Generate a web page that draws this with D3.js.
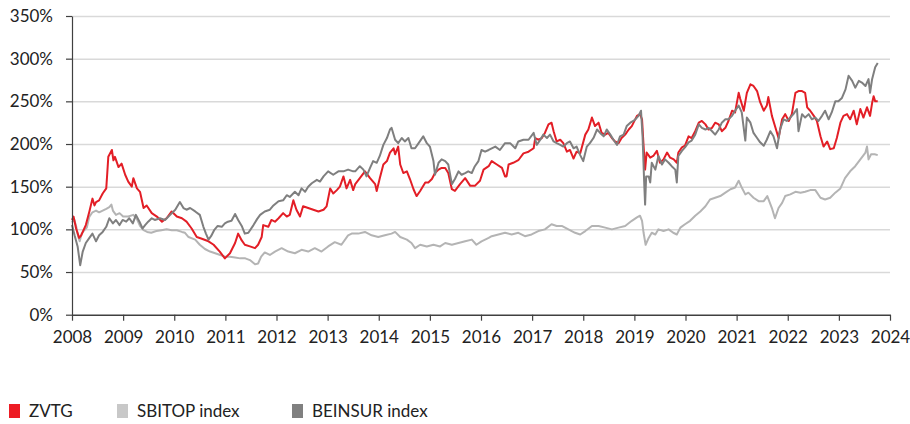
<!DOCTYPE html>
<html><head><meta charset="utf-8">
<script src="https://cdn.jsdelivr.net/npm/d3@7"></script>
<style>
html,body{margin:0;padding:0;background:#fff;}
text{font-family:Lato,"Open Sans",sans-serif;fill:#222;}
</style></head>
<body>
<svg id="chart" width="910" height="424"></svg>
<script>
const yearTicks = [2008,2009,2010,2011,2012,2013,2014,2015,2016,2017,2018,2019,2020,2021,2022,2023,2024];
const pctTicks = [0,50,100,150,200,250,300,350];
const seriesNames = ["ZVTG","SBITOP index","BEINSUR index"];
const seriesColors = ["#e31e26","#b4b4b4","#7f7f7f"];
const legendColors = ["#ed1c24","#c8c8c8","#808080"];

const zvtg = [[2008.00,111],[2008.03,115],[2008.08,101],[2008.14,90],[2008.18,93],[2008.21,97],[2008.27,105],[2008.34,121],[2008.40,136],[2008.44,128],[2008.47,132],[2008.53,134],[2008.60,142],[2008.67,148],[2008.69,166],[2008.71,185],[2008.78,193],[2008.81,181],[2008.84,185],[2008.91,173],[2008.97,177],[2009.04,164],[2009.10,156],[2009.17,150],[2009.20,160],[2009.27,148],[2009.33,144],[2009.40,125],[2009.46,128],[2009.56,119],[2009.66,115],[2009.76,109],[2009.85,113],[2009.95,121],[2010.05,115],[2010.15,113],[2010.24,109],[2010.34,101],[2010.44,91],[2010.54,89],[2010.67,86],[2010.77,82],[2010.89,74],[2010.99,66],[2011.09,72],[2011.19,84],[2011.25,95],[2011.32,87],[2011.38,82],[2011.48,80],[2011.58,78],[2011.64,82],[2011.71,91],[2011.74,105],[2011.84,103],[2011.90,111],[2011.97,109],[2012.04,113],[2012.13,119],[2012.20,115],[2012.26,117],[2012.33,134],[2012.39,123],[2012.46,115],[2012.52,127],[2012.62,125],[2012.72,123],[2012.82,121],[2012.92,123],[2012.98,127],[2013.05,148],[2013.11,142],[2013.18,146],[2013.24,150],[2013.31,162],[2013.37,148],[2013.44,158],[2013.50,146],[2013.54,153],[2013.63,160],[2013.73,168],[2013.83,160],[2013.93,153],[2013.96,145],[2014.02,160],[2014.09,176],[2014.16,180],[2014.22,190],[2014.29,195],[2014.32,188],[2014.38,197],[2014.42,176],[2014.48,166],[2014.55,168],[2014.61,159],[2014.68,147],[2014.74,139],[2014.81,145],[2014.91,155],[2014.97,155],[2015.04,159],[2015.10,166],[2015.17,170],[2015.23,172],[2015.30,172],[2015.36,166],[2015.43,147],[2015.49,145],[2015.59,153],[2015.69,160],[2015.79,151],[2015.88,151],[2015.98,157],[2016.05,170],[2016.15,174],[2016.21,180],[2016.31,176],[2016.41,172],[2016.47,162],[2016.50,162],[2016.54,176],[2016.63,178],[2016.73,181],[2016.83,189],[2016.93,191],[2017.03,195],[2017.06,207],[2017.12,205],[2017.19,207],[2017.25,213],[2017.32,223],[2017.38,225],[2017.42,215],[2017.48,203],[2017.55,205],[2017.61,201],[2017.68,191],[2017.74,193],[2017.81,183],[2017.87,191],[2017.94,189],[2018.04,211],[2018.10,217],[2018.17,231],[2018.23,221],[2018.30,225],[2018.36,213],[2018.43,211],[2018.49,213],[2018.56,207],[2018.62,203],[2018.69,201],[2018.75,207],[2018.82,211],[2018.89,217],[2018.95,221],[2019.05,233],[2019.11,235],[2019.15,229],[2019.18,198],[2019.21,170],[2019.24,190],[2019.31,184],[2019.37,186],[2019.44,192],[2019.50,178],[2019.57,182],[2019.64,190],[2019.70,184],[2019.77,182],[2019.83,178],[2019.86,190],[2019.93,196],[2019.99,198],[2020.06,209],[2020.12,207],[2020.19,215],[2020.26,225],[2020.32,227],[2020.39,223],[2020.45,217],[2020.52,219],[2020.58,225],[2020.65,223],[2020.71,215],[2020.78,219],[2020.84,227],[2020.91,239],[2020.97,237],[2021.04,260],[2021.07,253],[2021.14,239],[2021.20,260],[2021.27,270],[2021.33,268],[2021.40,262],[2021.46,249],[2021.53,239],[2021.59,245],[2021.62,255],[2021.69,233],[2021.76,219],[2021.82,207],[2021.89,229],[2021.95,235],[2022.02,227],[2022.08,235],[2022.15,260],[2022.21,262],[2022.28,262],[2022.34,260],[2022.38,243],[2022.44,239],[2022.51,233],[2022.57,227],[2022.64,209],[2022.70,197],[2022.77,203],[2022.83,194],[2022.90,195],[2022.96,207],[2023.03,225],[2023.09,233],[2023.16,235],[2023.22,229],[2023.29,239],[2023.35,223],[2023.42,241],[2023.48,231],[2023.55,243],[2023.61,233],[2023.65,248],[2023.68,256],[2023.71,250],[2023.76,250]];

const sbitop = [[2008.00,108],[2008.04,112],[2008.08,104],[2008.12,92],[2008.15,86],[2008.19,95],[2008.24,99],[2008.29,102],[2008.34,115],[2008.40,120],[2008.47,122],[2008.53,120],[2008.60,122],[2008.67,124],[2008.73,126],[2008.77,129],[2008.80,122],[2008.86,117],[2008.93,119],[2009.00,115],[2009.10,115],[2009.20,117],[2009.27,112],[2009.33,104],[2009.40,99],[2009.47,97],[2009.55,96],[2009.65,98],[2009.75,99],[2009.85,100],[2009.95,99],[2010.05,99],[2010.15,97],[2010.21,96],[2010.28,91],[2010.41,88],[2010.50,82],[2010.60,77],[2010.70,74],[2010.80,72],[2010.90,70],[2010.99,68],[2011.09,68],[2011.19,67],[2011.29,66],[2011.39,66],[2011.48,64],[2011.58,59],[2011.64,60],[2011.70,68],[2011.77,73],[2011.87,70],[2011.97,74],[2012.10,78],[2012.23,74],[2012.36,72],[2012.49,76],[2012.62,74],[2012.75,78],[2012.88,74],[2013.01,80],[2013.14,85],[2013.27,82],[2013.40,93],[2013.47,95],[2013.60,95],[2013.73,97],[2013.86,93],[2013.99,91],[2014.12,93],[2014.25,95],[2014.32,97],[2014.42,91],[2014.55,88],[2014.64,84],[2014.71,78],[2014.81,82],[2014.94,80],[2015.07,82],[2015.20,80],[2015.30,84],[2015.43,82],[2015.56,84],[2015.69,86],[2015.82,88],[2015.91,82],[2016.01,86],[2016.15,90],[2016.21,92],[2016.34,94],[2016.47,96],[2016.60,94],[2016.73,96],[2016.86,92],[2016.99,94],[2017.12,98],[2017.25,100],[2017.38,106],[2017.48,104],[2017.58,104],[2017.71,100],[2017.84,96],[2017.94,94],[2018.04,98],[2018.17,104],[2018.30,104],[2018.43,102],[2018.56,100],[2018.69,102],[2018.82,104],[2018.95,110],[2019.05,114],[2019.11,116],[2019.15,110],[2019.18,96],[2019.22,82],[2019.28,90],[2019.34,96],[2019.41,94],[2019.47,100],[2019.57,98],[2019.67,100],[2019.76,96],[2019.83,94],[2019.90,102],[2019.99,106],[2020.09,110],[2020.19,116],[2020.29,121],[2020.39,127],[2020.48,135],[2020.58,137],[2020.68,139],[2020.78,143],[2020.88,147],[2020.97,149],[2021.04,157],[2021.10,149],[2021.17,141],[2021.23,143],[2021.33,137],[2021.43,133],[2021.53,133],[2021.60,139],[2021.69,125],[2021.75,113],[2021.82,125],[2021.89,131],[2021.95,139],[2022.05,141],[2022.15,144],[2022.25,143],[2022.34,144],[2022.44,146],[2022.54,146],[2022.64,137],[2022.73,135],[2022.83,137],[2022.93,143],[2023.03,148],[2023.12,160],[2023.22,168],[2023.32,174],[2023.42,182],[2023.52,190],[2023.55,197],[2023.58,182],[2023.63,188],[2023.70,188],[2023.76,187]];

const beinsur = [[2008.00,105],[2008.05,93],[2008.11,80],[2008.16,58],[2008.21,74],[2008.27,84],[2008.34,90],[2008.40,95],[2008.47,86],[2008.53,93],[2008.60,97],[2008.67,103],[2008.73,113],[2008.80,107],[2008.86,111],[2008.93,105],[2008.99,111],[2009.06,109],[2009.12,113],[2009.19,107],[2009.25,117],[2009.32,109],[2009.38,101],[2009.43,105],[2009.49,109],[2009.56,113],[2009.62,111],[2009.72,113],[2009.82,111],[2009.92,117],[2010.02,123],[2010.11,132],[2010.18,125],[2010.24,123],[2010.31,125],[2010.41,121],[2010.50,117],[2010.57,103],[2010.62,95],[2010.67,88],[2010.72,92],[2010.78,99],[2010.85,104],[2010.93,103],[2010.99,107],[2011.05,109],[2011.12,110],[2011.19,118],[2011.25,111],[2011.32,104],[2011.38,95],[2011.45,96],[2011.55,105],[2011.62,112],[2011.68,117],[2011.77,121],[2011.87,123],[2011.94,128],[2012.04,133],[2012.13,134],[2012.20,140],[2012.26,138],[2012.36,144],[2012.43,140],[2012.49,148],[2012.56,144],[2012.62,150],[2012.69,154],[2012.79,158],[2012.85,156],[2012.92,162],[2013.01,168],[2013.11,164],[2013.21,168],[2013.31,168],[2013.40,170],[2013.50,168],[2013.54,168],[2013.63,174],[2013.70,170],[2013.76,162],[2013.83,172],[2013.89,180],[2013.96,178],[2014.02,186],[2014.09,199],[2014.16,207],[2014.22,217],[2014.25,219],[2014.32,205],[2014.38,201],[2014.45,207],[2014.51,203],[2014.58,207],[2014.64,195],[2014.71,195],[2014.78,201],[2014.87,209],[2014.94,201],[2015.00,197],[2015.07,180],[2015.10,164],[2015.17,178],[2015.23,182],[2015.30,180],[2015.36,176],[2015.43,153],[2015.49,159],[2015.56,168],[2015.62,164],[2015.69,166],[2015.75,168],[2015.82,166],[2015.88,174],[2015.95,180],[2016.01,193],[2016.08,191],[2016.15,193],[2016.21,195],[2016.28,197],[2016.37,193],[2016.47,201],[2016.57,201],[2016.67,195],[2016.73,203],[2016.83,205],[2016.93,205],[2017.03,213],[2017.09,199],[2017.16,205],[2017.22,211],[2017.29,207],[2017.35,211],[2017.42,203],[2017.48,201],[2017.55,199],[2017.61,197],[2017.68,201],[2017.74,203],[2017.81,195],[2017.87,197],[2017.94,187],[2018.00,180],[2018.07,197],[2018.13,201],[2018.20,207],[2018.27,217],[2018.33,213],[2018.40,209],[2018.46,217],[2018.53,211],[2018.59,205],[2018.66,199],[2018.72,209],[2018.79,211],[2018.85,221],[2018.92,225],[2018.98,227],[2019.02,229],[2019.08,233],[2019.13,239],[2019.16,209],[2019.19,158],[2019.21,129],[2019.23,162],[2019.28,162],[2019.31,155],[2019.34,178],[2019.41,170],[2019.47,186],[2019.54,176],[2019.60,182],[2019.67,178],[2019.73,174],[2019.80,170],[2019.83,155],[2019.86,186],[2019.93,192],[2019.99,196],[2020.06,202],[2020.12,204],[2020.19,211],[2020.26,223],[2020.32,219],[2020.39,217],[2020.45,219],[2020.52,215],[2020.58,211],[2020.65,217],[2020.71,225],[2020.78,229],[2020.84,229],[2020.91,233],[2020.97,239],[2021.04,245],[2021.10,237],[2021.17,204],[2021.20,231],[2021.27,225],[2021.33,213],[2021.40,207],[2021.46,202],[2021.53,198],[2021.59,205],[2021.66,215],[2021.72,209],[2021.79,195],[2021.85,217],[2021.92,229],[2021.98,227],[2022.05,231],[2022.11,235],[2022.18,241],[2022.21,215],[2022.28,235],[2022.34,231],[2022.41,235],[2022.47,229],[2022.54,231],[2022.60,227],[2022.67,233],[2022.73,239],[2022.80,229],[2022.86,237],[2022.93,250],[2022.99,250],[2023.06,254],[2023.13,264],[2023.19,280],[2023.26,274],[2023.32,266],[2023.39,274],[2023.45,272],[2023.52,268],[2023.58,276],[2023.61,260],[2023.65,276],[2023.71,290],[2023.76,295]];

const svg = d3.select("#chart");
const x = d3.scaleLinear().domain([2008, 2024]).range([72, 890]);
const y = d3.scaleLinear().domain([0, 350]).range([314.7, 16]);
const FS = 17;

// gridlines
svg.append("g")
  .attr("transform", "translate(72,0)")
  .call(d3.axisRight(y).tickValues(pctTicks.filter(d => d > 0)).tickSize(818).tickFormat(""))
  .call(g => g.select(".domain").remove())
  .call(g => g.selectAll("line").attr("stroke", "#d9d9d9").attr("stroke-width", 1.5));

// lines
const line = d3.line().x(d => x(d[0])).y(d => y(d[1]));
const seriesData = [zvtg, sbitop, beinsur];
[1, 0, 2].forEach(i => {
  svg.append("path").datum(seriesData[i])
    .attr("fill", "none")
    .attr("stroke", seriesColors[i])
    .attr("stroke-width", 2)
    .attr("stroke-linejoin", "round")
    .attr("d", line);
});

// y axis
svg.append("g")
  .attr("transform", "translate(72,0)")
  .call(d3.axisLeft(y).tickValues(pctTicks).tickSize(6).tickSizeOuter(0).tickPadding(13).tickFormat(d => d + "%"))
  .call(g => g.select(".domain").attr("stroke", "#404040").attr("stroke-width", 1.2))
  .call(g => g.selectAll("line").attr("stroke", "#404040").attr("stroke-width", 1.2))
  .call(g => g.selectAll("text").attr("font-size", FS).attr("font-family", "Lato").attr("fill", "#222"));

// x axis
svg.append("g")
  .attr("transform", "translate(0,314.7)")
  .call(d3.axisBottom(x).tickValues(yearTicks).tickSize(6).tickSizeOuter(0).tickPadding(10).tickFormat(d3.format("d")))
  .call(g => g.select(".domain").attr("stroke", "#404040").attr("stroke-width", 1.5))
  .call(g => g.selectAll("line").attr("stroke", "#404040").attr("stroke-width", 1.2))
  .call(g => g.selectAll("text").attr("font-size", FS).attr("font-family", "Lato").attr("fill", "#222"));

// legend
const legendX = [9, 117, 292];
const lg = svg.append("g");
seriesNames.forEach((name, i) => {
  lg.append("rect").attr("x", legendX[i]).attr("y", 404).attr("width", 11).attr("height", 14).attr("fill", legendColors[i]);
  lg.append("text").attr("x", legendX[i] + 20).attr("y", 417).attr("font-size", FS).attr("font-family", "Lato").attr("fill", "#222").text(name);
});
</script>
</body></html>
